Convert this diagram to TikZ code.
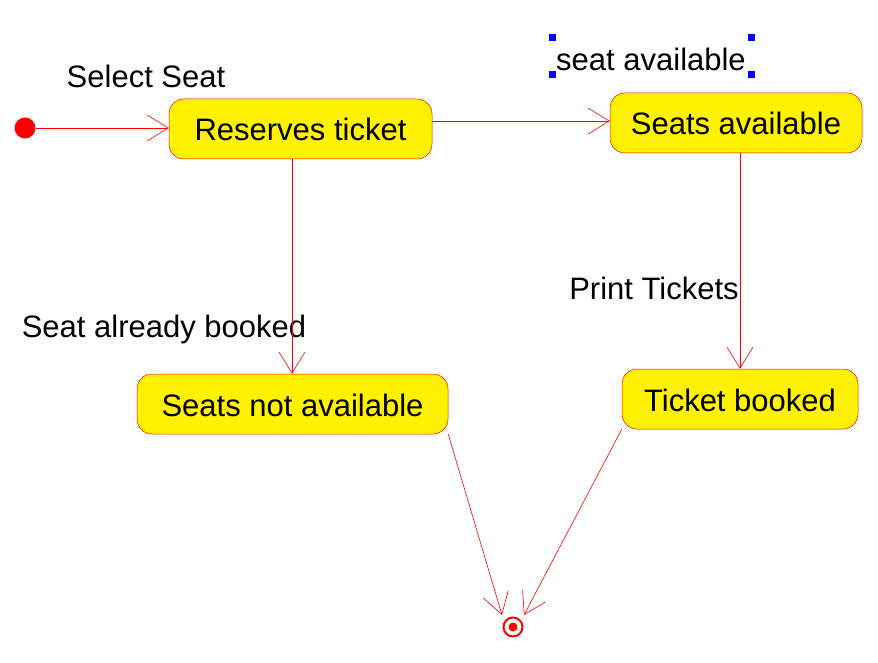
\documentclass[tikz,border=0pt]{standalone}
\usepackage{fontspec}
\setmainfont{Liberation Sans}
\usetikzlibrary{arrows.meta}
\tikzset{
  statebox/.style={draw=red, line width=0.5pt, fill=yellow, rectangle, rounded corners=15pt,
    minimum height=60pt, inner sep=0pt, text height=26pt, text depth=2pt, font=\fontsize{31}{33}\selectfont},
  lbl/.style={font=\fontsize{31}{33}\selectfont, inner sep=0pt},
  conn/.style={draw=red, line width=0.6pt, -{Straight Barb[length=21pt,width=26pt,line width=0.6pt]}},
  handle/.style={fill=blue, draw=none, minimum size=7pt, inner sep=0pt, rectangle}
}
\begin{document}
\begin{tikzpicture}[x=1pt,y=-1pt]
\useasboundingbox (0,0) rectangle (878,663);
\node[circle, fill=red, minimum size=21pt, inner sep=0pt] (init) at (25,128) {};
\node[statebox, minimum width=263pt] (rt) at (300.5,129) {Reserves ticket};
\node[statebox, minimum width=252pt] (sa) at (736,123) {Seats available};
\node[statebox, minimum width=311pt] (sna) at (292.5,404) {Seats not available};
\node[statebox, minimum width=236pt] (tb) at (740,399) {Ticket booked};
\node[circle, draw=red, line width=2pt, minimum size=19pt, inner sep=0pt] (fin) at (513,627) {};
\node[circle, fill=red, minimum size=9pt, inner sep=0pt] (fincore) at (513,627) {};

\node[lbl] (l1) at (146,76) {Select Seat};
\node[lbl] (l2) at (651,59) {seat available};
\node[lbl] (l3) at (654,288) {Print Tickets};
\node[lbl] (l4) at (164,329) {Seat already booked};

\node[handle] (h1) at (552,38) {};
\node[handle] (h2) at (751,38) {};
\node[handle] (h3) at (552,75) {};
\node[handle] (h4) at (751,75) {};

\coordinate (fa) at (502,615);
\coordinate (fb) at (524,615);

\draw[conn] (init.east) -- (init.east -| rt.west);
\draw[conn] (rt.east |- 0,121) -- (sa.west |- 0,121);
\draw[conn] (rt.south -| 292,0) -- (sna.north -| 292,0);
\draw[conn] (sa.south -| 740,0) -- (tb.north);
\draw[conn] (sna.south east) -- (fa);
\draw[conn] (tb.south west) -- (fb);
\end{tikzpicture}
\end{document}
